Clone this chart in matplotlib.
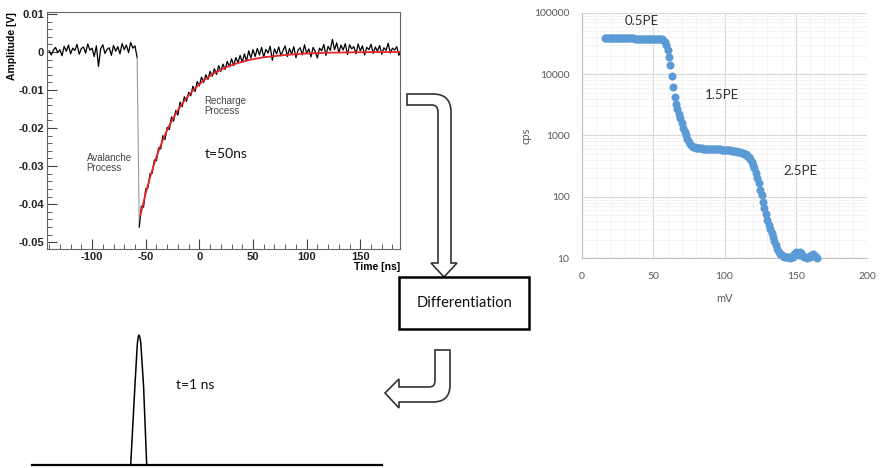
import numpy as np
import matplotlib
matplotlib.use("Agg")
import matplotlib.pyplot as plt
from matplotlib.path import Path
from matplotlib.patches import PathPatch, Rectangle
from matplotlib.ticker import MultipleLocator, FuncFormatter, LogLocator, NullFormatter

plt.rcParams['axes.unicode_minus'] = False

# SiPM waveform (top left), amplitude in mV, 2 ns sampling
base_start = -140
base_mv = [0.3, -0.8, 0.5, 1.2, -0.2, 0.6, -1.0, 1.5, 0.2, 1.8,
           -0.5, 1.0, 0.4, 2.0, -0.6, 0.9, 1.3, -0.3, 2.1, 0.5,
           1.0, -1.2, 1.6, -3.8, 0.8, 1.9, -0.4, 0.7, 1.1, -0.9,
           1.7, 0.2, 1.4, -0.5, 2.2, 0.6, 1.8, -0.2, 2.5, 1.0,
           1.6, -1.5]
rec_start = -56
rec_mv = [-46.0, -40.5, -40.8, -36.0, -35.8, -32.0, -31.9, -28.4, -28.6, -25.2,
          -25.5, -22.0, -23.0, -19.8, -20.4, -17.1, -18.2, -15.4, -16.6, -13.2,
          -14.4, -11.8, -13.0, -10.6, -11.5, -9.0, -10.4, -7.8, -8.9, -6.6,
          -8.0, -6.0, -7.2, -5.1, -6.4, -4.4, -5.9, -3.6, -5.1, -3.2,
          -4.6, -2.5, -3.9, -1.8, -3.6, -1.5, -2.8, -0.9, -2.7, -0.5,
          -2.4, 0.3, -1.6, 0.6, -1.2, 0.9, -0.8, 1.2, -1.4, 0.7,
          -0.3, 1.5, -2.2, 0.8, -0.5, 1.3, -1.0, 0.4, 1.6, -1.2,
          0.9, -0.6, 1.4, -1.5, 0.5, 1.1, -0.8, 1.9, -0.4, 0.8,
          -1.3, 1.2, 0.1, -1.6, 1.0, 0.3, 2.0, -0.9, 1.5, 0.4,
          3.3, 0.6, 2.4, -0.2, 1.8, 0.5, 2.2, -0.7, 1.9, 0.8,
          1.4, -0.5, 2.1, 0.3, 1.6, -0.8, 1.2, 0.6, 2.0, -0.4,
          1.3, 0.2, 1.7, -0.6, 1.1, 0.4, 2.3, -0.3, 1.0, 0.5,
          1.4, -0.9, 0.7]
fit_t = [-55, -50, -45, -40, -35, -30, -25, -20, -15, -10, -5, 0, 5, 10, 15, 20,
         25, 30, 35, 40, 45, 50, 60, 70, 80, 90, 100, 110, 120, 140, 160, 187]
fit_mv = [-43.0, -37.1, -32.0, -27.6, -23.8, -20.5, -17.7, -15.3, -13.2, -11.4,
          -9.8, -8.5, -7.3, -6.3, -5.4, -4.7, -4.0, -3.5, -3.0, -2.6, -2.2, -1.9,
          -1.4, -1.1, -0.8, -0.6, -0.4, -0.3, -0.2, -0.1, -0.05, 0.0]

# threshold scan (top right), one point per mV
scan_start = 16
scan_cps = [39000, 38900, 38900, 38800, 38800, 38800, 38700, 38700, 38700, 38600,
            38600, 38600, 38600, 38500, 38500, 38500, 38500, 38400, 38400, 38400,
            38400, 38300, 38300, 38300, 38300, 38200, 38200, 38200, 38100, 38100,
            38100, 38000, 38000, 38000, 37900, 37900, 37800, 37800, 37700, 37500,
            37200, 36000, 34000, 30000, 25000, 19000, 14000, 9500, 6300, 4300,
            3300, 2700, 2250, 1900, 1600, 1350, 1150, 1000, 880, 790,
            720, 680, 655, 640, 630, 620, 618, 615, 615, 612,
            610, 610, 608, 605, 605, 603, 600, 600, 598, 596,
            595, 593, 590, 588, 585, 582, 578, 575, 570, 565,
            560, 555, 550, 545, 540, 532, 525, 515, 505, 490,
            470, 445, 415, 375, 335, 290, 245, 200, 165, 130,
            105, 82, 65, 52, 42, 35, 30, 26, 22, 19,
            16, 14, 12.5, 11.5, 11, 10.8, 10.5, 10.5, 10.3, 10.2,
            10.0, 10.2, 10.5, 11.5, 12.5, 12.0, 11.0, 12.5, 12.0, 10.8,
            10.5, 10.3, 10.0, 10.2, 10.5, 11.0, 11.8, 11.0, 10.5, 10.0]
pe_labels = ["0.5PE", "1.5PE", "2.5PE"]
pe_x = [42, 98, 153]
pe_y = [75000, 4600, 260]

# differentiated pulse (bottom left), arbitrary units
line_t = [0, 350]
line_v = [0, 0]
pulse_t = [98.7, 103.0, 105.3, 106.2, 107.0, 107.8, 108.8, 111.6, 114.7]
pulse_v = [0.0, 0.62, 0.93, 0.985, 1.0, 0.985, 0.94, 0.6, 0.0]


def root_fmt(v, pos):
    v = round(v, 3)
    return "0" if abs(v) < 1e-9 else f"{v:g}"


W, H = 882, 468
fig = plt.figure(figsize=(W / 100, H / 100), dpi=100)

# ---------------- ROOT style waveform ----------------
root_font = {'family': 'Liberation Sans', 'weight': 'bold'}
ax1 = fig.add_axes([47 / W, 1 - 249 / H, 353 / W, 237 / H])
bt = np.arange(base_start, base_start + 2 * len(base_mv), 2)
rt = np.arange(rec_start, rec_start + 2 * len(rec_mv), 2)
base_v = np.array(base_mv) / 1000
rec_v = np.array(rec_mv) / 1000
ax1.plot(bt, base_v, color='black', lw=0.9)
ax1.plot([bt[-1], rt[0]], [base_v[-1], rec_v[0]], color='#999999', lw=0.8)
ax1.plot(rt, rec_v, color='black', lw=0.9)
ax1.plot(fit_t, np.array(fit_mv) / 1000, color='#e8262a', lw=1.3)
ax1.set_xlim(-142, 187)
ax1.set_ylim(-0.0518, 0.0105)
ax1.xaxis.set_major_locator(MultipleLocator(50))
ax1.xaxis.set_minor_locator(MultipleLocator(10))
ax1.yaxis.set_major_locator(MultipleLocator(0.01))
ax1.yaxis.set_minor_locator(MultipleLocator(0.002))
ax1.yaxis.set_major_formatter(FuncFormatter(root_fmt))
ax1.tick_params(which='both', direction='in', color='#444444', top=False, right=False)
ax1.tick_params(which='major', length=7, width=0.8, labelsize=8, pad=2)
ax1.tick_params(which='minor', length=3.5, width=0.6)
for lab in ax1.get_xticklabels() + ax1.get_yticklabels():
    lab.set_fontfamily('Liberation Sans')
    lab.set_fontweight('bold')
    lab.set_color('#222222')
for s in ax1.spines.values():
    s.set_color('#666666')
    s.set_linewidth(0.8)
ax1.set_ylabel("Amplitude [V]", loc='top', fontsize=7.5, labelpad=1, **root_font)
ax1.set_xlabel("Time [ns]", loc='right', fontsize=7.5, labelpad=0, **root_font)
ax1.text(-105, -0.0292, "Avalanche\nProcess", fontsize=7, color='#444444',
         family='Liberation Sans', va='center', ha='left', linespacing=1.1)
ax1.text(4.7, -0.0142, "Recharge\nProcess", fontsize=7, color='#444444',
         family='Liberation Sans', va='center', ha='left', linespacing=1.1)
ax1.text(4.7, -0.0268, "t=50ns", fontsize=10, color='#111111',
         family='Lato', va='center', ha='left')

# ---------------- Excel style threshold scan ----------------
ax2 = fig.add_axes([582 / W, 1 - 258 / H, 285 / W, 245 / H])
sx = np.arange(scan_start, scan_start + len(scan_cps))
ax2.plot(sx, scan_cps, 'o', color='#5b9bd5', ms=5.8, mew=0, clip_on=False, zorder=3)
ax2.set_yscale('log')
ax2.set_ylim(10, 100000)
ax2.set_xlim(0, 200)
ax2.xaxis.set_major_locator(MultipleLocator(50))
ax2.xaxis.set_minor_locator(MultipleLocator(10))
ax2.yaxis.set_major_locator(LogLocator(base=10, numticks=10))
ax2.yaxis.set_minor_locator(LogLocator(base=10, subs=np.arange(2, 10), numticks=10))
ax2.yaxis.set_major_formatter(FuncFormatter(lambda v, p: f"{int(round(v))}"))
ax2.yaxis.set_minor_formatter(NullFormatter())
ax2.grid(which='major', color='#d9d9d9', lw=0.8)
ax2.grid(which='minor', color='#efefef', lw=0.5)
ax2.set_axisbelow(True)
ax2.tick_params(which='both', length=0, labelsize=7.5, labelcolor='#595959')
ax2.tick_params(axis='y', pad=9)
ax2.tick_params(axis='x', pad=10)
for lab in ax2.get_xticklabels() + ax2.get_yticklabels():
    lab.set_fontfamily('Lato')
for side in ['top', 'right']:
    ax2.spines[side].set_visible(False)
for side in ['left', 'bottom']:
    ax2.spines[side].set_color('#bfbfbf')
    ax2.spines[side].set_linewidth(0.8)
ax2.set_xlabel("mV", fontsize=8, color='#595959', family='Lato', labelpad=9)
ax2.set_ylabel("cps", fontsize=8, color='#595959', family='Lato', labelpad=2)
for lab, x, y in zip(pe_labels, pe_x, pe_y):
    ax2.text(x, y, lab, fontsize=9.5, color='#333333', family='Lato',
             ha='center', va='center')

# ---------------- differentiated pulse ----------------
ax3 = fig.add_axes([32 / W, 3 / H, 350 / W, 130 / H])
ax3.plot(line_t, line_v, color='black', lw=1.6, clip_on=False)
ax3.plot(pulse_t, pulse_v, color='black', lw=1.1, clip_on=False)
ax3.set_xlim(0, 350)
ax3.set_ylim(0, 1)
ax3.axis('off')

# ---------------- block arrows and box (pixel overlay) ----------------
ov = fig.add_axes([0, 0, 1, 1], facecolor='none')
ov.set_xlim(0, W)
ov.set_ylim(H, 0)
ov.axis('off')

M, L, C, Z = Path.MOVETO, Path.LINETO, Path.CURVE3, Path.CLOSEPOLY
down_arrow = [(407, 94), (433, 94), (451, 94), (451, 112), (451, 263), (457, 263),
              (444, 277), (431, 263), (438, 263), (438, 112), (438, 105), (432, 105),
              (407, 105), (407, 94)]
down_codes = [M, L, C, C, L, L, L, L, L, L, C, C, L, Z]
ov.add_patch(PathPatch(Path(down_arrow, down_codes), facecolor='white',
                       edgecolor='#333333', lw=1.2, joinstyle='miter'))

left_arrow = [(435, 350), (450, 350), (450, 385), (450, 402), (433, 402), (399, 402),
              (399, 408), (385, 393), (399, 379), (399, 387), (429, 387), (435, 387),
              (435, 381), (435, 350)]
left_codes = [M, L, L, C, C, L, L, L, L, L, L, C, C, Z]
ov.add_patch(PathPatch(Path(left_arrow, left_codes), facecolor='white',
                       edgecolor='#333333', lw=1.2, joinstyle='miter'))

ov.add_patch(Rectangle((399, 277), 130, 52, facecolor='white', edgecolor='black', lw=1.8))
ov.text(464, 303, "Differentiation", fontsize=10.5, family='Lato', color='#111111',
        ha='center', va='center')
ov.text(176, 385, "t=1 ns", fontsize=10, family='Lato', color='#111111',
        ha='left', va='center')

fig.savefig("out.png", dpi=100)
